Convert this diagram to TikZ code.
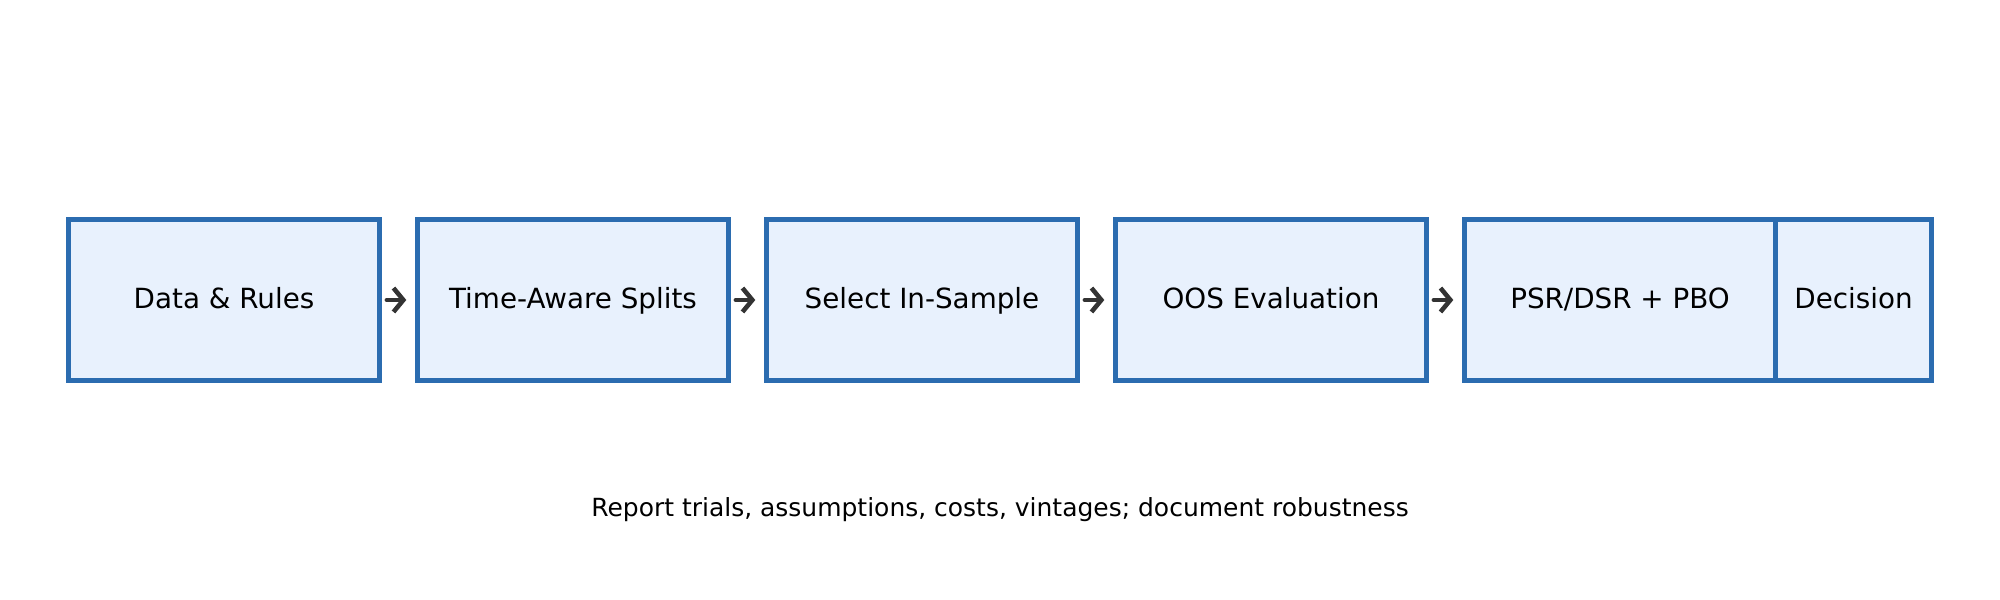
\documentclass[tikz,border=0pt]{standalone}
\usepackage{fontspec}
\setmainfont{DejaVu Sans}
\usetikzlibrary{arrows.meta}
\definecolor{boxblue}{HTML}{2B6CB0}
\definecolor{boxfill}{HTML}{E8F1FD}
\definecolor{arrowgray}{HTML}{333333}
\tikzset{
	stage/.style={draw=boxblue,fill=boxfill,line width=1.4pt,minimum width=3.1cm,minimum height=1.61cm,inner sep=0pt,text height=0.73em,text depth=0.25em,font=\fontsize{7.9pt}{9pt}\selectfont},
	flow/.style={-{Straight Barb[length=2.8pt,width=6.8pt]},line width=1.3pt,draw=arrowgray,line join=round,line cap=round,shorten <=1.5pt,shorten >=2.6pt}
}
\begin{document}
\begin{tikzpicture}[x=0.01cm,y=0.01cm]
		\useasboundingbox (0,0) rectangle (2000,600);
		\node[stage] (data) at (224,300) {Data \& Rules};
		\node[stage] (splits) at (573,300) {Time-Aware Splits};
		\node[stage] (select) at (922,300) {Select In-Sample};
		\node[stage] (oos) at (1271,300) {OOS Evaluation};
		\node[stage] (psr) at (1620,300) {PSR/DSR + PBO};
		\node[stage,minimum width=1.55cm] (decision) at (1853.5,300) {Decision};
		\draw[flow] (data) -- (splits);
		\draw[flow] (splits) -- (select);
		\draw[flow] (select) -- (oos);
		\draw[flow] (oos) -- (psr);
		\node[font=\fontsize{7.1pt}{8pt}\selectfont] (note) at (1000,90) {Report trials, assumptions, costs, vintages; document robustness};
	\end{tikzpicture}
\end{document}
